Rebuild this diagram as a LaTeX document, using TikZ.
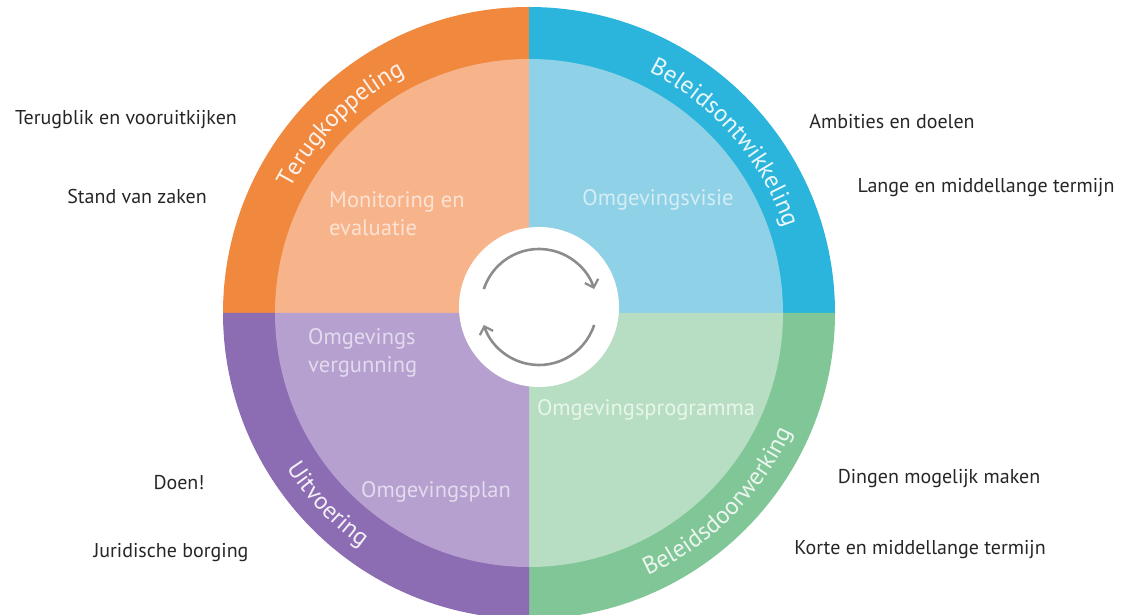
\documentclass[tikz,border=0pt]{standalone}
\usepackage{fontspec}
\setmainfont{PT Sans}
\usetikzlibrary{arrows.meta,decorations.text}
\definecolor{orR}{HTML}{F0883E}
\definecolor{orI}{HTML}{F7B48B}
\definecolor{blR}{HTML}{2BB5DC}
\definecolor{blI}{HTML}{8FD1E6}
\definecolor{grR}{HTML}{80C697}
\definecolor{grI}{HTML}{B7DEC2}
\definecolor{puR}{HTML}{8C6CB2}
\definecolor{puI}{HTML}{B5A0D0}
\definecolor{txt}{HTML}{262626}
\definecolor{arr}{HTML}{8C8C8C}
\begin{document}
\begin{tikzpicture}[x=1pt,y=1pt,
  side/.style={text=txt,font=\fontsize{20}{24}\selectfont,inner sep=0pt},
  inner/.style={font=\fontsize{22.5}{28}\selectfont,inner sep=0pt,align=left},
  cyc/.style={draw=arr,line width=2.6pt,-{Straight Barb[length=7pt,width=14pt,line width=2.2pt]}}]
\useasboundingbox (0,0) rectangle (1124,615);
\clip (0,0) rectangle (1124,615);
\coordinate (c) at (529,302);
% outer ring
\fill[orR] (c) -- ++(90:306) arc[start angle=90,end angle=180,radius=306] -- cycle;
\fill[blR] (c) -- ++(0:306) arc[start angle=0,end angle=90,radius=306] -- cycle;
\fill[grR] (c) -- ++(-90:306) arc[start angle=-90,end angle=0,radius=306] -- cycle;
\fill[puR] (c) -- ++(180:306) arc[start angle=180,end angle=270,radius=306] -- cycle;
% inner quadrants
\fill[orI] (c) -- ++(90:254) arc[start angle=90,end angle=180,radius=254] -- cycle;
\fill[blI] (c) -- ++(0:254) arc[start angle=0,end angle=90,radius=254] -- cycle;
\fill[grI] (c) -- ++(-90:254) arc[start angle=-90,end angle=0,radius=254] -- cycle;
\fill[puI] (c) -- ++(180:254) arc[start angle=180,end angle=270,radius=254] -- cycle;
% centre
\coordinate (w) at (539,308);
\fill[white] (w) circle[radius=80];
\draw[cyc] (w) ++(162:58) arc[start angle=162,end angle=18,radius=58];
\draw[cyc] (w) ++(-18:58) arc[start angle=-18,end angle=-162,radius=58];
% ring labels
\path[decorate,decoration={text along path,text align=center,text color=white!90!orR,
  text={|\fontsize{24.5}{28}\selectfont|Terugkoppeling}}]
  (c) ++(179:269) arc[start angle=179,end angle=91,radius=269];
\path[decorate,decoration={text along path,text align=center,text color=white!90!blR,
  text={|\fontsize{24.5}{28}\selectfont|Beleidsontwikkeling}}]
  (c) ++(86:269) arc[start angle=86,end angle=-4,radius=269];
\path[decorate,decoration={text along path,text align=center,text color=white!90!puR,
  text={|\fontsize{24.5}{28}\selectfont|Uitvoering}}]
  (c) ++(183:288) arc[start angle=183,end angle=264,radius=288];
\path[decorate,decoration={text along path,text align=center,text color=white!85!grR,
  text={|\fontsize{24.5}{28}\selectfont|Beleidsdoorwerking}}]
  (c) ++(-88:288) arc[start angle=-88,end angle=-2,radius=288];
% inner labels
\node[inner,anchor=west,text=white!62!orI] (mon) at (329,401) {Monitoring en\\evaluatie};
\node[inner,text=white!62!blI] (vis) at (658,415) {Omgevingsvisie};
\node[inner,anchor=west,text=white!62!puI] (ver) at (308,262) {Omgevings\\vergunning};
\node[inner,text=white!62!puI] (plan) at (436,123) {Omgevingsplan};
\node[inner,text=white!68!grI] (prog) at (646,205) {Omgevingsprogramma};
% side labels
\node[side] (t1) at (126,495) {Terugblik en vooruitkijken};
\node[side] (t2) at (137,418) {Stand van zaken};
\node[side] (t3) at (892,493) {Ambities en doelen};
\node[side] (t4) at (986,427) {Lange en middellange termijn};
\node[side] (t5) at (179,132) {Doen!};
\node[side] (t6) at (171,62) {Juridische borging};
\node[side] (t7) at (939,136) {Dingen mogelijk maken};
\node[side] (t8) at (920,65) {Korte en middellange termijn};
\end{tikzpicture}
\end{document}
